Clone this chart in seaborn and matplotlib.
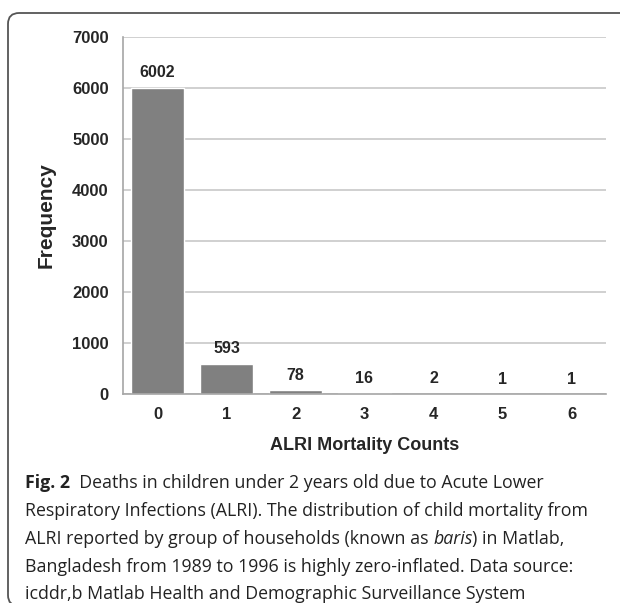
import matplotlib
matplotlib.use('Agg')
import matplotlib.pyplot as plt
import seaborn as sns
import numpy as np
from matplotlib.patches import FancyBboxPatch

# Data
counts = ['0', '1', '2', '3', '4', '5', '6']
frequency = [6002, 593, 78, 16, 2, 1, 1]
yticks = [0, 1000, 2000, 3000, 4000, 5000, 6000, 7000]

caption_lines = [
    [('Fig. 2', 'bold', 'normal'), ('  Deaths in children under 2 years old due to Acute Lower', 'normal', 'normal')],
    [('Respiratory Infections (ALRI). The distribution of child mortality from', 'normal', 'normal')],
    [('ALRI reported by group of households (known as ', 'normal', 'normal'), ('baris', 'normal', 'italic'),
     (') in Matlab,', 'normal', 'normal')],
    [('Bangladesh from 1989 to 1996 is highly zero-inflated. Data source:', 'normal', 'normal')],
    [('icddr,b Matlab Health and Demographic Surveillance System', 'normal', 'normal')],
]

W, H = 620, 603
sns.set_style('white')
plt.rcParams['font.family'] = ['Liberation Sans', 'DejaVu Sans']

fig = plt.figure(figsize=(W / 100, H / 100), dpi=100)
ax = fig.add_axes([123 / W, 1 - 394 / H, (606 - 123) / W, (394 - 37) / H])

sns.barplot(x=counts, y=frequency, order=counts, color='#808080', saturation=1,
            width=0.77, ax=ax)

ax.set_ylim(0, 7000)
ax.set_xlim(-0.5, 6.5)
ax.set_yticks(yticks)
ax.yaxis.grid(True, color='#c8c8c8', lw=1.2)
ax.set_axisbelow(True)
sns.despine(ax=ax)
for s in ['left', 'bottom']:
    ax.spines[s].set_color('#a6a6a6')
    ax.spines[s].set_linewidth(1.2)

ax.tick_params(axis='y', length=4.3, width=1, color='#a6a6a6', pad=6, labelsize=12)
ax.tick_params(axis='x', which='major', length=0, pad=9.5, labelsize=12)
ax.set_xticks(np.arange(-0.5, 7, 1), minor=True)
ax.tick_params(axis='x', which='minor', length=4.3, width=1, color='#a6a6a6', direction='out')
for lab in ax.get_xticklabels() + ax.get_yticklabels():
    lab.set_fontweight('bold')

# value labels
for i, v in enumerate(frequency):
    ax.annotate(str(v), (i, v), xytext=(0, 7.5), textcoords='offset points',
                ha='center', va='baseline', fontsize=11.5, fontweight='bold')

ax.set_xlabel('ALRI Mortality Counts', fontsize=13, fontweight='bold', labelpad=11)
ax.set_ylabel('Frequency', fontsize=15, fontweight='bold', labelpad=12)

# frame around figure + caption
frame = FancyBboxPatch((8 / W, -3 / H), 1.2, 1 - 13 / H + 3 / H,
                       boxstyle='round,pad=0,rounding_size=0.018',
                       transform=fig.transFigure, fill=False,
                       edgecolor='#555555', lw=1.3, clip_on=False)
fig.patches.append(frame)

fig.canvas.draw()
renderer = fig.canvas.get_renderer()
cap_base = [488, 516, 544, 572, 599]
for line, yy in zip(caption_lines, cap_base):
    x = 25
    for txt, weight, style in line:
        t = fig.text(x / W, 1 - yy / H, txt, fontsize=12.8, fontweight=weight,
                     fontstyle=style, family=['Open Sans', 'DejaVu Sans'],
                     va='baseline', ha='left', color='#222222')
        bb = t.get_window_extent(renderer)
        x += bb.width

fig.savefig('out.png', dpi=100)
